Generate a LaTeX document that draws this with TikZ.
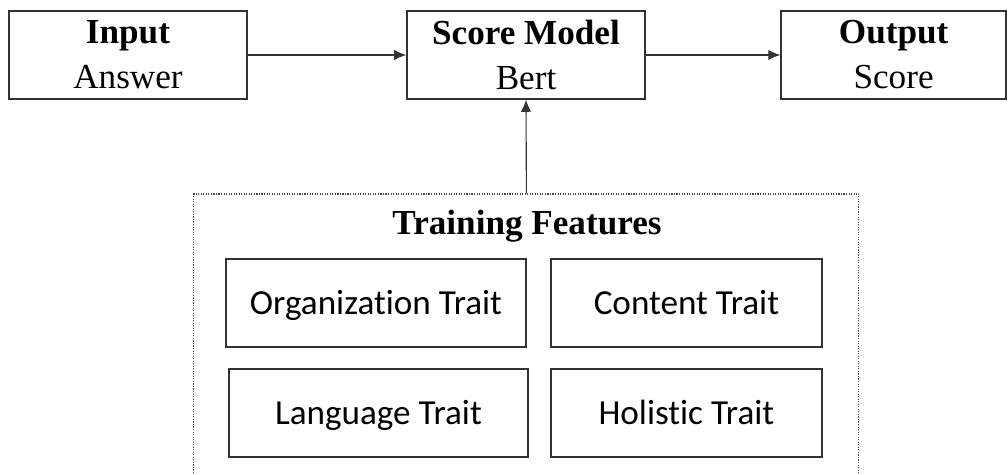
\documentclass[tikz,border=0pt]{standalone}
\usepackage{fontspec}
\setmainfont{Liberation Serif}
\newfontfamily\traitfont[Ligatures=NoCommon]{Carlito}
\usetikzlibrary{arrows.meta,positioning}

\begin{document}
\begin{tikzpicture}[
    box/.style={rectangle, draw=black!80, line width=1.1pt, minimum height=2.2cm, align=center, font=\fontsize{25}{32}\selectfont},
    trait/.style={rectangle, draw=black!80, line width=1.1pt, minimum height=2.2cm, text height=0.57cm, text depth=0cm, font=\traitfont\fontsize{25}{30}\selectfont},
    group/.style={rectangle, draw=black!70, densely dotted, line width=0.8pt},
    flow/.style={-{Latex[length=3mm,width=2.6mm]}, line width=0.8pt, draw=black!80},
]

% Page frame
\clip (0, 0) rectangle (25.2, 11.875);

% Top row: pipeline
\node[box, minimum width=5.95cm] (input) at (3.2, 10.5) {\textbf{Input}\\Answer};
\node[box, minimum width=5.95cm] (model) at (13.15, 10.5) {\textbf{Score Model}\\Bert};
\node[box, minimum width=5.625cm] (output) at (22.34, 10.5) {\textbf{Output}\\Score};

% Feature group (open at the bottom edge)
\node[group, minimum width=16.625cm, minimum height=7.5cm] (features) at (13.16, 3.275) {};
\node[font=\bfseries\fontsize{25}{30}\selectfont, text height=0.56cm, text depth=0cm] (title) at (13.175, 6.3) {Training Features};

% Trait boxes
\node[trait, minimum width=7.5cm] (org) at (9.4, 4.3) {Organization Trait};
\node[trait, minimum width=6.775cm] (content) at (17.16, 4.3) {Content Trait};
\node[trait, minimum width=7.475cm] (lang) at (9.46, 1.55) {Language Trait};
\node[trait, minimum width=6.775cm] (holistic) at (17.16, 1.55) {Holistic Trait};

% Connectors
\draw[flow] (input) -- (model);
\draw[flow] (model) -- (output);
\draw[flow] (features.north) -- (model.south);

\end{tikzpicture}
\end{document}
